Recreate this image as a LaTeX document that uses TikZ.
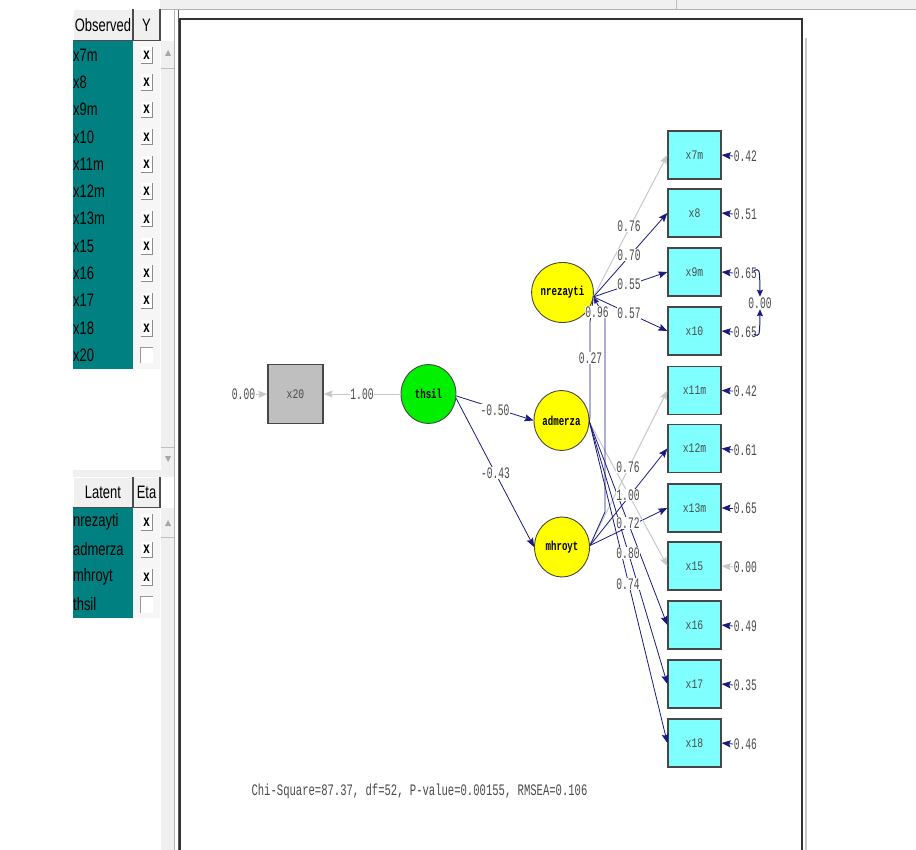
\documentclass[tikz,border=0pt]{standalone}
\usepackage{fontspec}
\usetikzlibrary{shapes.geometric,arrows.meta}
\newfontfamily\panelfont[FakeStretch=0.72]{Liberation Sans}
\newfontfamily\labfont[FakeStretch=0.6]{Liberation Mono}
\newfontfamily\chifont[FakeStretch=0.66]{Liberation Mono}
\newfontfamily\boxfont[FakeStretch=0.75]{Liberation Mono}
\newfontfamily\latfont[FakeStretch=0.7]{Liberation Mono}
\definecolor{tealc}{HTML}{008080}
\definecolor{navyc}{HTML}{1A1A80}
\definecolor{glinec}{HTML}{C8C8C8}
\definecolor{cyanc}{HTML}{80FFFF}
\definecolor{yelc}{HTML}{FFFF00}
\definecolor{grnc}{HTML}{00F000}
\definecolor{panelc}{HTML}{F0F0F0}
\definecolor{labc}{HTML}{4A4A4A}
\tikzset{
  obsbox/.style={rectangle, draw=black!72, line width=1.3pt, fill=cyanc, minimum width=53pt, minimum height=48pt, inner sep=0pt, text=black!70, font=\boxfont\fontsize{13}{13}\selectfont},
  latnode/.style={ellipse, draw=black!72, line width=0.9pt, fill=yelc, minimum width=55pt, minimum height=60pt, inner sep=0pt, font=\latfont\bfseries\fontsize{13}{13}\selectfont},
  lbl/.style={fill=white, inner sep=0.6pt, text=labc, font=\labfont\fontsize{16}{16}\selectfont},
  elbl/.style={inner sep=0.6pt, text=labc, font=\labfont\fontsize{16}{16}\selectfont, anchor=west},
  navarrow/.style={draw=navyc, line width=0.8pt, -{Stealth[length=9pt,width=7pt,inset=1.5pt]}},
  grayarrow/.style={draw=glinec, line width=1pt, -{Stealth[length=9pt,width=7pt,inset=1.5pt]}},
  covline/.style={draw=navyc, line width=0.8pt},
  ptext/.style={inner sep=1pt, anchor=west, font=\panelfont\fontsize{18}{18}\selectfont},
  hdrtext/.style={inner sep=0pt, font=\panelfont\fontsize{18}{18}\selectfont},
  cbx/.style={inner sep=0pt, font=\panelfont\bfseries\fontsize{16}{16}\selectfont}
}
\begin{document}
\begin{tikzpicture}[x=1pt,y=-1pt]
\useasboundingbox (0,0) rectangle (916,850);
\fill[white] (0,0) rectangle (916,850);
% ---------- top strip ----------
\fill[panelc] (160,0) rectangle (916,9);
\draw[black!30, line width=0.8pt] (160,9.5) -- (916,9.5);
\draw[black!25, line width=0.8pt] (676,0) -- (676,9);
% ---------- left panel ----------
\fill[panelc] (161,41) rectangle (174,470);
\fill[panelc] (161,508) rectangle (174,850);
\fill[panelc] (73,470) rectangle (174,477);
\draw[black!25] (161,68) -- (174,68);
\draw[black!25] (161,447) -- (174,447);
\draw[black!25] (161,537) -- (174,537);
\fill[black!35] (165,56) -- (171,56) -- (168,50) -- cycle;
\fill[black!35] (165,456) -- (171,456) -- (168,462) -- cycle;
\fill[black!35] (165,526) -- (171,526) -- (168,520) -- cycle;
\draw[black!30, line width=1pt] (174.5,10) -- (174.5,850);
\draw[black!65, line width=1.2pt] (178.5,10) -- (178.5,850);
% Observed header
\fill[panelc] (73,9) rectangle (160,41);
\draw[white, line width=1pt] (73,41) |- (160,9.5);
\draw[black!70, line width=1.2pt] (73,40.5) -- (133,40.5) -- (133,9);
\draw[black!70, line width=1.2pt] (133,40.5) -- (160,40.5) -- (160,9);
\node[hdrtext] (hobs) at (103,25) {Observed};
\node[hdrtext] (hy) at (146.5,25) {Y};
\fill[tealc] (73,41) rectangle (133,369);
\fill[panelc!60] (133,41) rectangle (160,369);
\foreach \t [count=\i] in {x7m,x8,x9m,x10,x11m,x12m,x13m,x15,x16,x17,x18,x20} {
  \pgfmathsetmacro\yy{41+27.3*(\i-1)+14}
  \node[ptext] (ob\i) at (72,\yy) {\t};
  \fill[white] (140.5,\yy-8) rectangle (152.5,\yy+8);
  \ifnum\i<12
    \draw[black!45, line width=0.8pt] (140.5,\yy+8) -- (152.5,\yy+8) -- (152.5,\yy-8);
    \node[cbx] (cb\i) at (146.5,\yy) {x};
  \else
    \draw[black!40, line width=0.8pt] (140.5,\yy+8) |- (152.5,\yy-8);
  \fi
}
% Latent header
\fill[panelc] (73,477) rectangle (160,508);
\draw[white, line width=1pt] (73,508) |- (160,477.5);
\draw[black!70, line width=1.2pt] (73,507.5) -- (133,507.5) -- (133,477);
\draw[black!70, line width=1.2pt] (133,507.5) -- (160,507.5) -- (160,477);
\node[hdrtext] (hlat) at (103,492.5) {Latent};
\node[hdrtext] (heta) at (146.5,492.5) {Eta};
\fill[tealc] (73,508) rectangle (133,618);
\fill[panelc!60] (133,508) rectangle (160,618);
\foreach \t [count=\i] in {nrezayti,admerza,mhroyt,thsil} {
  \pgfmathsetmacro\yy{508+27.5*(\i-1)+14}
  \node[ptext] (lt\i) at (72,\yy) {\t};
  \fill[white] (140.5,\yy-8) rectangle (152.5,\yy+8);
  \ifnum\i<4
    \draw[black!45, line width=0.8pt] (140.5,\yy+8) -- (152.5,\yy+8) -- (152.5,\yy-8);
    \node[cbx] (lb\i) at (146.5,\yy) {x};
  \else
    \draw[black!40, line width=0.8pt] (140.5,\yy+8) |- (152.5,\yy-8);
  \fi
}
% ---------- canvas frame ----------
\draw[black!80, line width=1.6pt] (180,852) |- (802,19) -- (802,852);
\draw[black!22, line width=1.2pt] (806,38) -- (806,852);
% ---------- nodes ----------
\node[rectangle, draw=black!72, line width=1.3pt, fill=black!25, minimum width=55pt, minimum height=59pt, inner sep=0pt, text=black!70, font=\boxfont\fontsize{13}{13}\selectfont] (x20) at (295.5,394) {x20};
\node[ellipse, draw=black!72, line width=0.9pt, fill=grnc, minimum width=55pt, minimum height=59pt, inner sep=0pt, font=\latfont\bfseries\fontsize{13}{13}\selectfont] (ths) at (428.5,394) {thsil};
\node[latnode] (nre) at (562.5,292.5) {nrezayti};
\node[latnode] (adm) at (561.5,420.5) {admerza};
\node[latnode] (mhr) at (562,547) {mhroyt};
\node[obsbox] (b7m) at (694.5,155) {x7m};
\node[obsbox] (b8) at (694.5,213) {x8};
\node[obsbox] (b9m) at (694.5,272) {x9m};
\node[obsbox] (b10) at (694.5,331) {x10};
\node[obsbox] (b11m) at (694.5,390.5) {x11m};
\node[obsbox] (b12m) at (694.5,448.5) {x12m};
\node[obsbox] (b13m) at (694.5,508) {x13m};
\node[obsbox] (b15) at (694.5,566) {x15};
\node[obsbox] (b16) at (694.5,625) {x16};
\node[obsbox] (b17) at (694.5,684) {x17};
\node[obsbox] (b18) at (694.5,743) {x18};
% ---------- connectors ----------
\draw[grayarrow] (ths.west) -- (x20.east);
\node[lbl] (l20) at (362,394.5) {1.00};
\node[lbl] (e20) at (243.5,394.5) {0.00};
\draw[grayarrow] (e20.east) -- (x20.west);
\draw[navarrow] (ths.-4) -- (adm.west);
\draw[navarrow] (ths.-9) -- (mhr.west);
% loadings
\draw[grayarrow] (nre.-8) -- (b7m.west);
\draw[navarrow] (nre.-8) -- (b8.west);
\draw[navarrow] (nre.-8) -- (b9m.west);
\draw[navarrow] (nre.-8) -- (b10.west);
\draw[grayarrow] (mhr.3) -- (b11m.west);
\draw[navarrow] (mhr.3) -- (b12m.west);
\draw[navarrow] (mhr.3) -- (b13m.west);
\draw[grayarrow] (adm.-3) -- (b15.west);
\draw[navarrow] (adm.-3) -- (b16.west);
\draw[navarrow] (adm.-3) -- (b17.west);
\draw[navarrow] (adm.-3) -- (b18.west);
% covariances between latents
\draw[covline] (nre.-12) -- (590,322) -- (590,416) -- (adm.-3);
\draw[covline, {Stealth[length=7pt,width=5pt,inset=1pt]}-] (nre.-8) -- (605,318) -- (605,512) -- (mhr.3);
% labels on paths
\node[lbl] (p1) at (629,226) {0.76};
\node[lbl] (p2) at (629,255) {0.70};
\node[lbl] (p3) at (629,284) {0.55};
\node[lbl] (p4) at (629,313) {0.57};
\node[lbl] (c1) at (597,312) {0.96};
\node[lbl] (c2) at (590.5,358) {0.27};
\node[lbl] (p5) at (628,467) {0.76};
\node[lbl] (p6) at (628,495) {1.00};
\node[lbl] (p7) at (628,523) {0.72};
\node[lbl] (p8) at (628,553) {0.80};
\node[lbl] (p9) at (628,584) {0.74};
\node[lbl] (s1) at (495,410) {-0.50};
\node[lbl] (s2) at (495.5,473) {-0.43};
% error variances
\node[elbl] (e7m) at (733,156) {0.42};
\node[elbl] (e8) at (733,214) {0.51};
\node[elbl] (e9m) at (733,273) {0.65};
\node[elbl] (e10) at (733,332) {0.65};
\node[elbl] (e11m) at (733,391) {0.42};
\node[elbl] (e12m) at (733,450) {0.61};
\node[elbl] (e13m) at (733,508) {0.65};
\node[elbl] (e15) at (733,567) {0.00};
\node[elbl] (e16) at (733,626) {0.49};
\node[elbl] (e17) at (733,685) {0.35};
\node[elbl] (e18) at (733,744) {0.46};
\foreach \e/\b in {e7m/b7m,e8/b8,e9m/b9m,e10/b10,e11m/b11m,e12m/b12m,e13m/b13m,e16/b16,e17/b17,e18/b18}
  \draw[navarrow] (\e.west) -- (\b.east);
\draw[grayarrow] (e15.west) -- (b15.east);
\node[elbl, anchor=center] (c910) at (760,303) {0.00};
\draw[navyc, line width=1pt, -{Stealth[length=7pt,width=6pt,inset=1pt]}] ([xshift=-4pt,yshift=2pt]e9m.east) .. controls +(6,-3) .. (c910.north);
\draw[navyc, line width=1pt, -{Stealth[length=7pt,width=6pt,inset=1pt]}] ([xshift=-4pt,yshift=-2pt]e10.east) .. controls +(6,3) .. (c910.south);
% fit statistics
\node[inner sep=0pt, text=labc, font=\chifont\fontsize{16}{16}\selectfont] (chi) at (419.5,791.5) {Chi-Square=87.37, df=52, P-value=0.00155, RMSEA=0.106};
\end{tikzpicture}
\end{document}
